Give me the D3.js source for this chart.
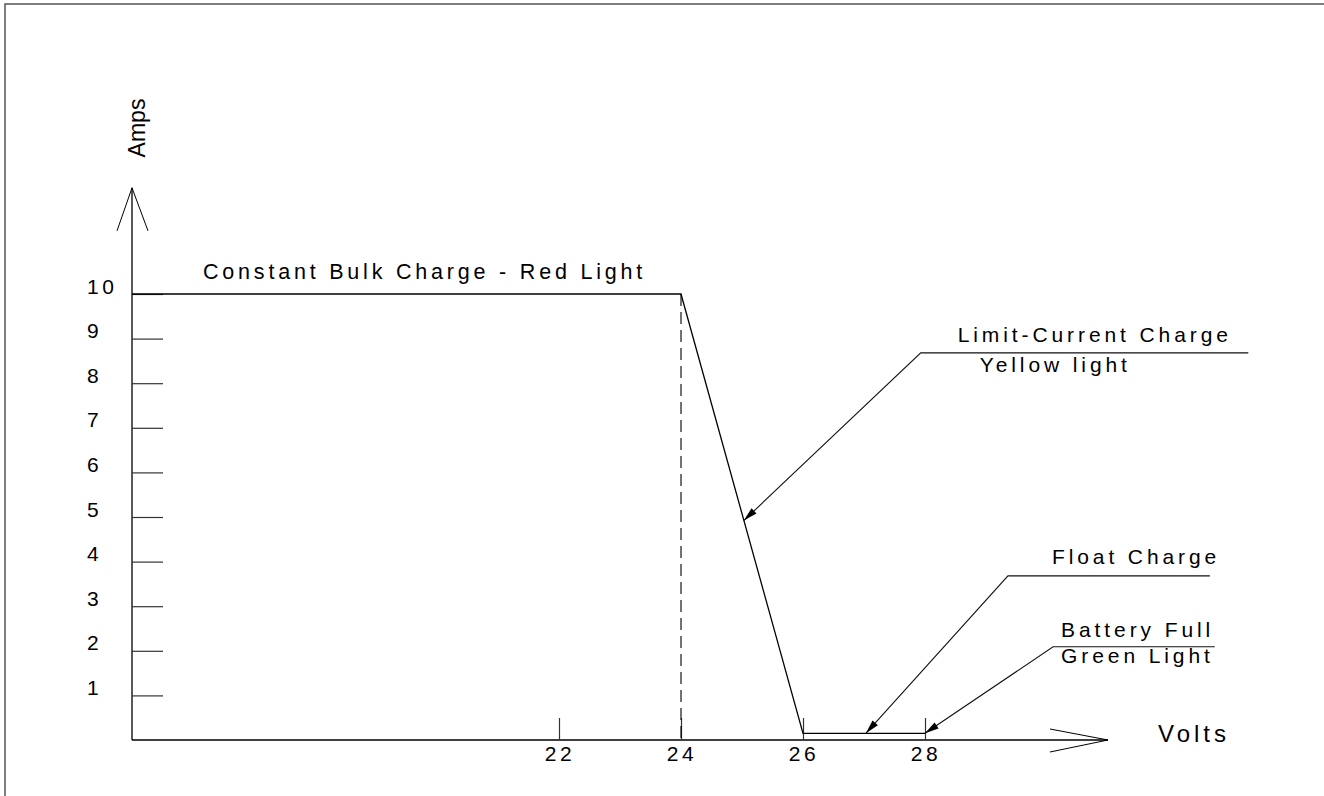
<!DOCTYPE html>
<html>
<head>
<meta charset="utf-8">
<script src="https://cdn.jsdelivr.net/npm/d3@7"></script>
<style>
  html, body { margin: 0; padding: 0; background: #fff; }
  svg { display: block; }
  text { font-family: "Liberation Sans", Arial, sans-serif; fill: #000; }
</style>
</head>
<body>
<svg id="chart" width="1324" height="796"></svg>
<script>
// ---- data ----
const volts = [15, 24, 26, 28];
const amps = [10, 10, 0.15, 0.15];
const yTickValues = [1, 2, 3, 4, 5, 6, 7, 8, 9, 10];
const xTickValues = [22, 24, 26, 28];
const bulkEndVolt = 24;
const xAxisLabel = "Volts";
const yAxisLabel = "Amps";
const bulkLabel = "Constant Bulk Charge - Red Light";
const annoLabels = [["Limit-Current Charge", "Yellow light"], ["Float Charge"], ["Battery Full", "Green Light"]];
const annoTipVolt = [25.03, 27.03, 28];
const annoTipAmp = [4.92, 0.15, 0.15];
const annoElbowVolt = [27.93, 29.36, 30.1];
const annoElbowAmp = [8.68, 3.68, 2.09];
const annoEndVolt = [33.3, 32.67, 32.75];

// ---- layout ----
const svg = d3.select("#chart");
const x = d3.scaleLinear().domain([15, 31]).range([132, 1108]);
const y = d3.scaleLinear().domain([0, 10]).range([740, 294]);
const yAxisTop = 12.38;

// frame
svg.append("rect").attr("x", 5).attr("y", 4).attr("width", 1340).attr("height", 810)
  .attr("fill", "none").attr("stroke", "#555").attr("stroke-width", 1.5);

const ink = "#000";
const sw = 1.3;

// y axis line with open arrow
svg.append("line").attr("x1", x(15)).attr("x2", x(15)).attr("y1", y(0)).attr("y2", y(yAxisTop))
  .attr("stroke", ink).attr("stroke-width", sw);
svg.append("path")
  .attr("d", `M${x(15) - 15},${y(yAxisTop) + 43} L${x(15)},${y(yAxisTop)} L${x(15) + 16},${y(yAxisTop) + 43}`)
  .attr("fill", "none").attr("stroke", ink).attr("stroke-width", 1);

// x axis line with open arrow
svg.append("line").attr("x1", x(15)).attr("x2", x(31)).attr("y1", y(0)).attr("y2", y(0))
  .attr("stroke", ink).attr("stroke-width", sw);
svg.append("path")
  .attr("d", `M${x(31) - 58},${y(0) - 11} L${x(31)},${y(0)} L${x(31) - 58},${y(0) + 12}`)
  .attr("fill", "none").attr("stroke", ink).attr("stroke-width", 1);

// y ticks via d3 axis
const yAxis = d3.axisLeft(y).tickValues(yTickValues).tickSizeInner(-31).tickSizeOuter(0).tickFormat(d3.format("d"));
const gy = svg.append("g").attr("transform", `translate(${x(15)},0)`).call(yAxis);
gy.select(".domain").remove();
gy.selectAll(".tick line").attr("stroke", "#333").attr("stroke-width", 1.2);
gy.selectAll(".tick text")
  .attr("x", -45).attr("dy", null).attr("y", -1)
  .attr("text-anchor", "start")
  .style("font-family", '"Liberation Sans", Arial, sans-serif')
  .style("font-size", "21px").style("letter-spacing", "3.5px").attr("fill", ink);

// x ticks via d3 axis
const xAxis = d3.axisBottom(x).tickValues(xTickValues).tickSizeInner(-22).tickSizeOuter(0).tickFormat(d3.format("d"));
const gx = svg.append("g").attr("transform", `translate(0,${y(0)})`).call(xAxis);
gx.select(".domain").remove();
gx.selectAll(".tick line").attr("stroke", "#333").attr("stroke-width", 1.2);
gx.selectAll(".tick text")
  .attr("y", 21).attr("dy", null).attr("dx", 0.5)
  .style("font-family", '"Liberation Sans", Arial, sans-serif')
  .style("font-size", "21px").style("letter-spacing", "3.5px").attr("fill", ink);

// dashed line at end of bulk charge
svg.append("line").attr("x1", x(bulkEndVolt)).attr("x2", x(bulkEndVolt))
  .attr("y1", y(10)).attr("y2", y(0))
  .attr("stroke", ink).attr("stroke-width", 1.1).attr("stroke-dasharray", "12,6");

// main charge curve
const line = d3.line().x((d, i) => x(volts[i])).y((d, i) => y(amps[i]));
svg.append("path").datum(volts).attr("d", line)
  .attr("fill", "none").attr("stroke", ink).attr("stroke-width", sw);

// axis labels
svg.append("text").attr("x", 1158).attr("y", y(0) + 2)
  .style("font-size", "24px").style("letter-spacing", "4px").text(xAxisLabel);
svg.append("text").attr("transform", `translate(145,128) rotate(-90)`)
  .attr("text-anchor", "middle")
  .style("font-size", "23px").text(yAxisLabel);

// bulk label
svg.append("text").attr("x", x(15) + 71).attr("y", y(10) - 15)
  .style("font-size", "21.5px").style("letter-spacing", "3.8px").text(bulkLabel);

// annotations
const textOffsets = [
  [[37, -11], [59, 19]],
  [[44, -12]],
  [[8, -10], [8, 16]]
];
annoLabels.forEach((labels, i) => {
  const tx = x(annoTipVolt[i]), ty = y(annoTipAmp[i]);
  const ex = x(annoElbowVolt[i]), ey = y(annoElbowAmp[i]);
  const endx = x(annoEndVolt[i]);
  svg.append("path").attr("d", `M${tx},${ty} L${ex},${ey} L${endx},${ey}`)
    .attr("fill", "none").attr("stroke", "#111").attr("stroke-width", 1.1);
  // filled arrowhead
  const ang = Math.atan2(ey - ty, ex - tx);
  const L = 14, W = 3.6;
  const bx = tx + L * Math.cos(ang), by = ty + L * Math.sin(ang);
  const px = -Math.sin(ang) * W, py = Math.cos(ang) * W;
  svg.append("path")
    .attr("d", `M${tx},${ty} L${bx + px},${by + py} L${bx - px},${by - py} Z`)
    .attr("fill", ink);
  labels.forEach((lab, j) => {
    svg.append("text").attr("x", ex + textOffsets[i][j][0]).attr("y", ey + textOffsets[i][j][1])
      .style("font-size", "21px").style("letter-spacing", "3.9px").text(lab);
  });
});
</script>
</body>
</html>
